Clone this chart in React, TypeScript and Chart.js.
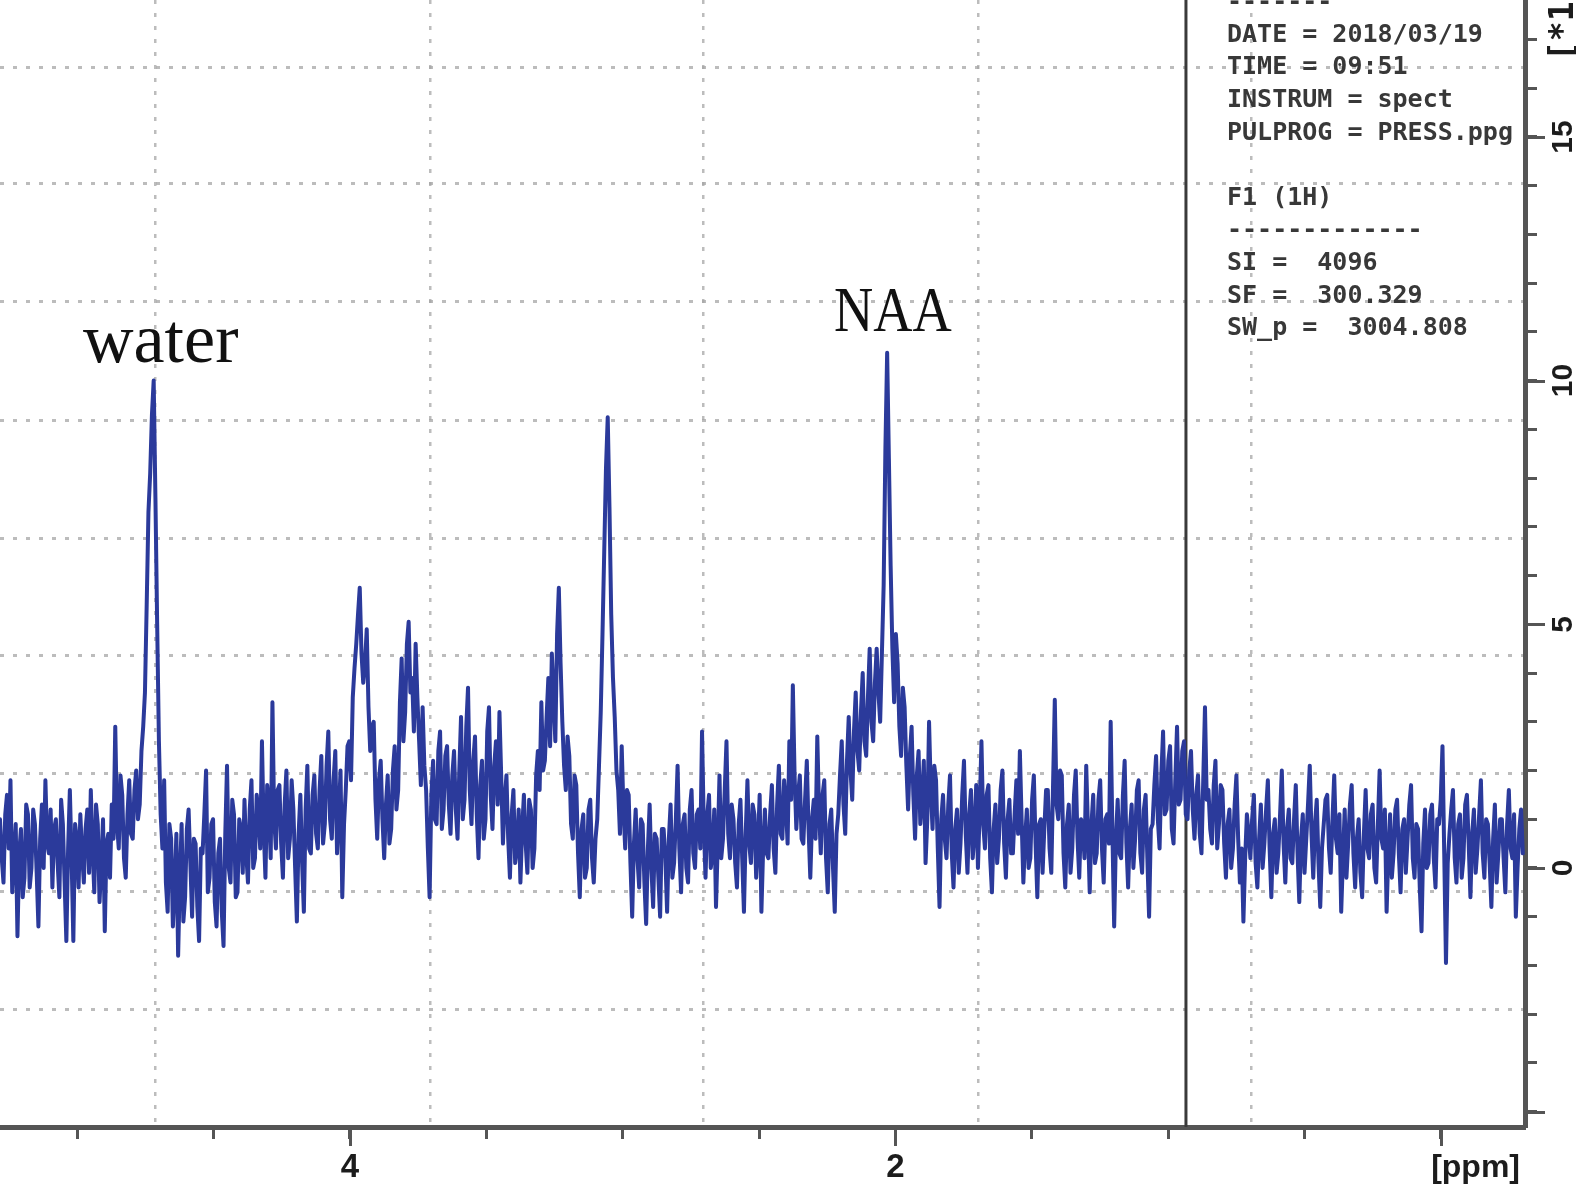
import React, { useEffect, useRef } from 'react';
import { Chart, registerables } from 'chart.js';

Chart.register(...registerables);

// ---- axis ranges (ppm, reversed; intensity in units of the [*1e6] scale) ----
const PPM_LEFT = 5.283;
const PPM_RIGHT = -0.308;
const INT_MIN = -5.315;
const INT_MAX = 17.81;

// evenly sampled spectrum points run from SPEC_START_PPM to SPEC_END_PPM
const SPEC_START_PPM = 5.283;
const SPEC_END_PPM = -0.3;

// spectrum intensities, left (high ppm) to right
const SEG_WATER = [
  1.0, 0.2, -0.3, 1.1, 1.5, 0.4, 1.8, -0.5, 0.2, 0.9, -1.4, 0.3, 0.8, -0.6, -0.2, 1.3, 1.1, -0.4, 0.0, 1.2,
  0.9, -0.1, -1.2, 0.6, 1.3, 0.0, 1.8, 0.5, 0.3, 1.2, -0.4, 0.8, 1.0, 0.1, -0.6, 1.4, 0.9, -0.3, -1.5, 0.4,
  1.6, 0.2, -1.5, 0.9, 0.6, -0.4, 1.1, 0.3, -0.3, 0.8, 1.2, -0.1, 1.6, 0.4, -0.5, 1.3, 0.9, -0.7, 0.1, 1.0,
  -1.3, 0.5, 0.7, -0.2, 1.3, 0.6, 2.9, 0.9, 0.4, 1.9, 1.5, 0.2, -0.2, 1.1, 1.8, 0.7, 0.6, 1.6, 2.0, 1.0,
  1.3, 2.4, 2.9, 3.6, 5.4, 7.3, 8.1, 9.3, 10.0, 7.6, 5.0, 2.6, 1.1, 0.4, 1.8, -0.3, -0.9, 0.9, 0.6, -1.2,
  -0.4, 0.7, -1.8, -0.2, 0.9, -1.1, -0.6, 0.8, 1.2, 0.1, -1.0, 0.6, 0.5, -0.8, -1.5, 0.4, 0.3, 1.1, 2.0, -0.5,
  -0.2, 0.9, 1.0, -0.7, -1.2, 0.3, 0.6, -0.9, -1.6, 0.7, 2.1, 0.0, -0.3, 1.4, 1.1, -0.6, -0.5, 1.0, 0.8, -0.1,
  1.4, 0.3, -0.3, 1.2, 1.8, 0.0, 0.2, 1.5, 1.1, 0.4, 2.6, 0.8, -0.2, 1.7, 1.3, 0.2, 3.4, 1.0, 0.4, 1.6,
  1.7, 0.5, -0.2, 1.3, 2.0, 0.2, 0.6, 1.8, 1.2, 0.0, -1.1, 0.7, 1.5, 0.1, -0.9, 1.2, 2.1, 0.4, 0.3, 1.5,
];
const SEG_MIDDLE = [
  1.9, 0.7, 0.4, 1.6, 2.3, 0.5, 0.9, 2.1, 2.8, 1.0, 0.6, 1.8, 2.4, 0.3, 1.1, 2.0, -0.6, 0.9, 1.6, 2.5,
  2.6, 1.8, 3.5, 4.1, 4.6, 5.2, 5.75, 4.4, 3.8, 4.2, 4.9, 3.3, 2.4, 2.9, 3.0, 1.4, 0.6, 1.8, 2.2, 1.0,
  0.2, 1.3, 1.9, 0.5, 0.8, 2.0, 2.5, 1.2, 1.6, 3.4, 4.3, 2.6, 3.2, 4.6, 5.05, 3.6, 3.9, 2.8, 4.6, 3.5,
  2.6, 1.7, 3.3, 2.1, 1.6, 0.4, -0.6, 1.5, 2.2, 1.0, 0.9, 2.4, 2.8, 0.8, 1.2, 2.3, 2.5, 1.3, 0.7, 1.9,
  2.4, 1.2, 0.6, 2.0, 3.1, 1.0, 1.4, 2.9, 3.7, 1.6, 0.9, 2.2, 2.7, 1.1, 0.2, 1.7, 2.2, 0.6, 1.0, 2.8,
  3.3, 1.5, 0.8, 2.1, 2.6, 1.3, 3.2, 1.9, 0.5, 1.4, 1.9, 0.6, -0.2, 1.1, 1.6, 0.1, 0.4, 1.2, -0.3, 0.8,
  1.5, 0.5, -0.1, 1.4, 1.2, 0.0, 0.4, 1.9, 2.4, 1.6, 3.4, 2.0, 2.2, 3.1, 3.9, 2.5, 4.4, 3.5, 2.6, 4.8,
  5.75, 4.2, 3.0, 2.1, 1.6, 2.7, 2.3, 0.9, 0.6, 1.9, 1.7, 0.3, -0.6, 0.8, 1.1, -0.2, 0.0, 1.2, 1.4, 0.2,
  -0.3, 0.6, 1.0, 2.1, 3.2, 4.8, 6.5, 8.2, 9.25, 7.4, 5.2, 3.9, 3.1, 2.0, 1.6, 0.7, 2.5, 1.2, 0.4, 1.6,
];
const SEG_PRE_NAA = [
  1.5, 0.1, -1.0, 0.5, 1.2, 0.2, -0.4, 1.0, 0.9, -0.3, -1.15, 0.4, 1.3, 0.0, -0.8, 0.7, 0.6, -0.2, -1.0, 0.8,
  0.8, 0.2, -0.9, 0.6, 1.3, -0.2, 0.1, 1.0, 2.1, 0.4, -0.5, 0.9, 1.1, 0.0, -0.3, 1.2, 1.6, 0.3, 0.0, 1.1,
  1.2, 0.4, 2.8, 0.9, -0.2, 1.1, 1.5, 0.0, 0.3, 1.2, -0.8, 0.5, 1.9, 0.2, 0.6, 1.6, 2.6, 0.7, 0.2, 1.3,
  1.0, 0.1, -0.4, 0.9, 1.4, 0.2, -0.9, 0.7, 1.8, 0.5, 0.1, 1.3, 1.1, -0.2, 0.5, 1.5, -0.9, 0.4, 1.2, 0.3,
  0.2, 1.1, 1.7, 0.4, -0.1, 1.3, 2.1, 0.7, 0.6, 1.8, 1.3, 0.5, 2.6, 1.4, 3.75, 1.9, 0.8, 1.5, 1.9, 0.6,
  0.5, 1.4, 2.2, 0.8, -0.2, 1.0, 1.4, 0.6, 2.7, 1.2, 0.3, 1.5, 1.8, 0.2, -0.5, 0.9, 1.2, 0.0, -0.9, 0.7,
];
const SEG_NAA = [
  1.1, 1.9, 2.6, 1.3, 0.7, 2.2, 3.1, 2.0, 1.4, 2.8, 3.6, 2.4, 2.0, 3.2, 4.0, 2.6, 2.3, 3.5, 4.5, 3.0,
  2.6, 3.8, 4.5, 3.6, 3.0, 4.4, 5.8, 8.6, 10.57, 8.4, 6.2, 4.5, 3.4, 4.8, 4.2, 2.9, 2.3, 3.7, 3.3, 2.1,
  1.2, 2.3, 2.9, 1.5, 0.6, 1.9, 2.4, 0.9, 1.4, 2.2, 0.1, 1.0, 3.0, 1.6, 0.8, 2.1, 1.8, 0.4, -0.8, 1.0,
  1.5, 0.6, 0.2, 1.3, 1.9, 0.3, -0.4, 0.8, 1.2, -0.1, 0.5, 1.5, 2.2, 0.7, -0.1, 1.1, 1.6, 0.2, 0.7, 1.7,
  0.0, 1.2, 2.6, 0.9, 0.4, 1.5, 1.7, 0.2, -0.5, 0.8, 1.3, 0.1, 0.6, 1.6, 2.0, 0.5, -0.2, 1.0, 1.4, 0.3,
  0.3, 1.1, 1.8, 0.7, 2.4, 1.0, -0.3, 0.6, 1.2, 0.0, 0.2, 1.4, 1.9, 0.5, -0.6, 0.9, 1.0, -0.1, 0.8, 1.6,
  1.6, 0.4, -0.1, 1.7, 3.45, 1.3, 1.0, 2.0, 1.9, 0.3, -0.4, 0.9, 1.3, -0.1, 0.4, 1.5, 2.0, 0.6, -0.2, 1.0,
  0.9, 0.2, 2.1, 0.8, -0.5, 0.9, 1.5, 0.1, 0.3, 1.4, 1.8, 0.4, -0.3, 1.0, 1.1, 0.5, 3.0, 0.7, -1.2, 0.6,
  1.4, 0.3, 0.2, 1.5, 2.2, 0.5, -0.4, 0.8, 1.3, 0.0, 0.6, 1.6, 1.8, 0.3, -0.1, 1.2, 1.5, 0.2, -1.0, 0.8,
];
const SEG_UPFIELD = [
  0.9, 1.7, 2.3, 1.0, 0.4, 1.9, 2.8, 1.1, 1.2, 2.2, 2.5, 0.8, 0.5, 1.8, 2.9, 1.3, 1.4, 2.4, 2.6, 1.1,
  1.0, 2.0, 2.4, 1.2, 0.6, 1.5, 1.9, 0.7, 0.3, 1.8, 3.3, 1.4, 1.6, 0.8, 0.5, 1.7, 2.2, 0.4, 0.9, 1.7,
  1.6, 0.5, -0.2, 0.9, 1.2, 0.0, 0.4, 1.3, 1.9, 0.6, -0.3, 0.4, -1.1, 0.2, 1.1, 0.7, 0.2, 1.0, 1.5, 0.1,
  -0.4, 0.6, 1.3, 0.0, 0.5, 1.2, 1.8, 0.4, -0.6, 0.7, 1.0, -0.1, 0.3, 1.1, 2.0, 0.5, -0.3, 0.8, 1.2, 0.2,
  0.1, 1.0, 1.7, 0.3, -0.7, 0.6, 1.1, -0.1, 0.6, 1.3, 2.1, 0.7, -0.2, 0.9, 1.4, 0.1, -0.8, 0.4, 0.9, 1.4,
  1.5, 0.4, -0.1, 1.0, 1.9, 0.6, 0.3, 1.1, -0.9, 0.2, 1.2, -0.2, 0.5, 1.3, 1.7, 0.3, -0.4, 0.6, 1.0, -0.1,
  -0.6, 0.7, 1.6, 0.4, 0.2, 1.1, 1.3, 0.0, -0.3, 0.9, 2.0, 0.6, 0.4, 1.2, -0.9, 0.3, 1.1, -0.2, 0.3, 1.2,
  1.4, 0.3, -0.5, 0.8, 1.0, -0.1, 0.6, 1.3, 1.7, 0.2, -0.2, 0.9, 0.8, -0.4, -1.3, 0.5, 1.2, 0.0, 0.1, 1.1,
  1.3, 0.2, -0.4, 1.0, 0.9, 1.4, 2.5, 0.3, -1.95, 0.1, 0.7, 1.2, 1.6, 0.2, -0.3, 0.9, 1.1, -0.2, 0.2, 1.3,
  1.5, 0.5, -0.6, 0.7, 1.2, -0.1, 0.4, 1.1, 1.8, 0.3, -0.2, 1.0, 0.9, 0.1, -0.8, 0.6, 1.3, -0.3, 0.3, 1.0,
  1.0, 0.2, -0.5, 0.9, 1.6, 0.4, 0.2, 1.1, -1.0, 0.0, 0.8, 1.2, 0.3,
];
const SPECTRUM = [...SEG_WATER, ...SEG_MIDDLE, ...SEG_PRE_NAA, ...SEG_NAA, ...SEG_UPFIELD];

// ticks, labels, grid
const X_TICKS = [5, 4.5, 4, 3.5, 3, 2.5, 2, 1.5, 1, 0.5, 0];
const X_TICK_TEXT = ['', '', '4', '', '', '', '2', '', '', '', ''];
const X_MAJOR = [4, 2, 0];
const X_TITLE = '[ppm]';
const Y_TICKS = [-5, -4, -3, -2, -1, 0, 1, 2, 3, 4, 5, 6, 7, 8, 9, 10, 11, 12, 13, 14, 15, 16, 17];
const Y_LABELED = [0, 5, 10, 15];
const Y_MAJOR = [-5, 0, 5, 10, 15];
const Y_TITLE = '[*1e6]';
const GRID_X = [4.712, 3.707, 2.703, 1.698, 0.697];
const GRID_Y = [16.43, 14.04, 11.63, 9.19, 6.77, 4.37, 1.93, -0.49, -2.91];
const CURSOR_PPM = 0.935;

const INFO_LINES = [
  '-------',
  'DATE = 2018/03/19',
  'TIME = 09:51',
  'INSTRUM = spect',
  'PULPROG = PRESS.ppg',
  '',
  'F1 (1H)',
  '-------------',
  'SI =  4096',
  'SF =  300.329',
  'SW_p =  3004.808',
];
const PEAK_WATER = 'water';
const PEAK_NAA = 'NAA';

const AXIS_COLOR = '#555555';
const TEXT_COLOR = '#1c1c1c';
const GRID_COLOR = 'rgba(165,165,165,0.75)';
const LINE_COLOR = '#2b3a9b';

const overlay = {
  id: 'overlay',
  afterDraw(chart: any) {
    const { ctx, chartArea, scales } = chart;
    const xs = scales.x;
    const ys = scales.y;
    ctx.save();
    ctx.strokeStyle = AXIS_COLOR;
    ctx.lineWidth = 3;
    X_MAJOR.forEach((v) => {
      const p = Math.round(xs.getPixelForValue(v)) + 0.5;
      ctx.beginPath();
      ctx.moveTo(p, chartArea.bottom);
      ctx.lineTo(p, chartArea.bottom + 19);
      ctx.stroke();
    });
    Y_MAJOR.forEach((v) => {
      const p = Math.round(ys.getPixelForValue(v)) + 0.5;
      ctx.beginPath();
      ctx.moveTo(chartArea.right, p);
      ctx.lineTo(chartArea.right + 20, p);
      ctx.stroke();
    });

    // x-axis unit
    ctx.fillStyle = TEXT_COLOR;
    ctx.font = 'bold 32px "Liberation Sans"';
    ctx.textAlign = 'right';
    ctx.textBaseline = 'middle';
    ctx.fillText(X_TITLE, chartArea.right - 5, 1168);

    // y-axis unit (rotated, reading upwards, clipped by the top edge)
    ctx.save();
    ctx.translate(1564, 61);
    ctx.rotate(-Math.PI / 2);
    ctx.font = 'bold 33px "DejaVu Sans Mono"';
    ctx.textAlign = 'left';
    ctx.textBaseline = 'middle';
    ctx.fillText(Y_TITLE, 0, 0);
    ctx.restore();

    // acquisition parameters
    ctx.fillStyle = '#383838';
    ctx.font = 'bold 25px "DejaVu Sans Mono"';
    ctx.textAlign = 'left';
    ctx.textBaseline = 'middle';
    INFO_LINES.forEach((line, i) => {
      if (line) ctx.fillText(line, 1227, 2.6 + 32.6 * i);
    });

    // peak annotations
    ctx.fillStyle = '#111111';
    ctx.textBaseline = 'alphabetic';
    ctx.font = '70px "Liberation Serif"';
    ctx.fillText(PEAK_WATER, 83, 362);
    ctx.save();
    ctx.translate(834, 331);
    ctx.scale(0.85, 1);
    ctx.font = '64px "Liberation Serif"';
    ctx.fillText(PEAK_NAA, 0, 0);
    ctx.restore();

    ctx.restore();
  },
};

export default function App() {
  const ref = useRef<HTMLCanvasElement | null>(null);

  useEffect(() => {
    const canvas = ref.current;
    if (!canvas) return;
    const n = SPECTRUM.length;
    const spectrumPoints = SPECTRUM.map((v, i) => ({
      x: SPEC_START_PPM + ((SPEC_END_PPM - SPEC_START_PPM) * i) / (n - 1),
      y: v,
    }));
    const chart = new Chart(canvas, {
      type: 'line',
      data: {
        datasets: [
          {
            label: 'spectrum',
            data: spectrumPoints,
            borderColor: LINE_COLOR,
            borderWidth: 4,
            borderJoinStyle: 'round',
            borderCapStyle: 'round',
            pointRadius: 0,
            tension: 0,
            xAxisID: 'x',
            yAxisID: 'y',
            clip: 0,
          },
          {
            label: 'cursor',
            data: [
              { x: CURSOR_PPM, y: INT_MIN },
              { x: CURSOR_PPM, y: INT_MAX },
            ],
            borderColor: '#3a3a3a',
            borderWidth: 3,
            pointRadius: 0,
            xAxisID: 'x',
            yAxisID: 'y',
          },
        ],
      } as any,
      options: {
        animation: false,
        responsive: false,
        maintainAspectRatio: false,
        devicePixelRatio: 1,
        events: [],
        layout: { padding: 0 },
        plugins: { legend: { display: false }, tooltip: { enabled: false } },
        scales: {
          x: {
            type: 'linear',
            position: 'bottom',
            reverse: true,
            min: PPM_RIGHT,
            max: PPM_LEFT,
            afterBuildTicks: (s: any) => {
              s.ticks = X_TICKS.map((v) => ({ value: v }));
            },
            afterFit: (s: any) => {
              s.height = 57;
              s.paddingLeft = 0;
              s.paddingRight = 0;
            },
            ticks: {
              autoSkip: false,
              maxRotation: 0,
              minRotation: 0,
              padding: 9,
              color: TEXT_COLOR,
              font: { family: 'Liberation Sans', weight: 'bold', size: 33 },
              callback: (_v: any, i: number) => X_TICK_TEXT[i],
            },
            grid: { drawOnChartArea: false, drawTicks: true, tickLength: 12, tickWidth: 3, tickColor: AXIS_COLOR },
            border: { display: true, color: AXIS_COLOR, width: 5 },
          },
          y: {
            type: 'linear',
            position: 'right',
            min: INT_MIN,
            max: INT_MAX,
            afterBuildTicks: (s: any) => {
              s.ticks = Y_TICKS.map((v) => ({ value: v }));
            },
            afterFit: (s: any) => {
              s.width = 51;
              s.paddingTop = 0;
              s.paddingBottom = 0;
            },
            ticks: {
              autoSkip: false,
              minRotation: 90,
              maxRotation: 90,
              crossAlign: 'center',
              padding: 10,
              color: TEXT_COLOR,
              font: { family: 'Liberation Sans', weight: 'bold', size: 30 },
              callback: (v: any) => (Y_LABELED.includes(v) ? String(v) : ''),
            },
            grid: { drawOnChartArea: false, drawTicks: true, tickLength: 12, tickWidth: 3, tickColor: AXIS_COLOR },
            border: { display: true, color: AXIS_COLOR, width: 5 },
          },
          xg: {
            type: 'linear',
            position: 'top',
            reverse: true,
            min: PPM_RIGHT,
            max: PPM_LEFT,
            afterBuildTicks: (s: any) => {
              s.ticks = GRID_X.map((v) => ({ value: v }));
            },
            afterFit: (s: any) => {
              s.height = 0;
              s.paddingLeft = 0;
              s.paddingRight = 0;
            },
            ticks: { display: false },
            grid: { drawOnChartArea: true, drawTicks: false, color: GRID_COLOR, lineWidth: 2.5 },
            border: { display: false, dash: [4, 9] },
          },
          yg: {
            type: 'linear',
            position: 'left',
            min: INT_MIN,
            max: INT_MAX,
            afterBuildTicks: (s: any) => {
              s.ticks = GRID_Y.map((v) => ({ value: v }));
            },
            afterFit: (s: any) => {
              s.width = 0;
              s.paddingTop = 0;
              s.paddingBottom = 0;
            },
            ticks: { display: false },
            grid: { drawOnChartArea: true, drawTicks: false, color: GRID_COLOR, lineWidth: 3 },
            border: { display: false, dash: [4, 9] },
          },
        },
      } as any,
      plugins: [overlay],
    });
    return () => chart.destroy();
  }, []);

  return (
    <div
      style={{
        position: 'absolute',
        left: 0,
        top: 0,
        width: 1576,
        height: 1184,
        overflow: 'hidden',
        background: '#ffffff',
      }}
    >
      <canvas ref={ref} width={1576} height={1184} style={{ display: 'block', width: 1576, height: 1184 }} />
    </div>
  );
}
